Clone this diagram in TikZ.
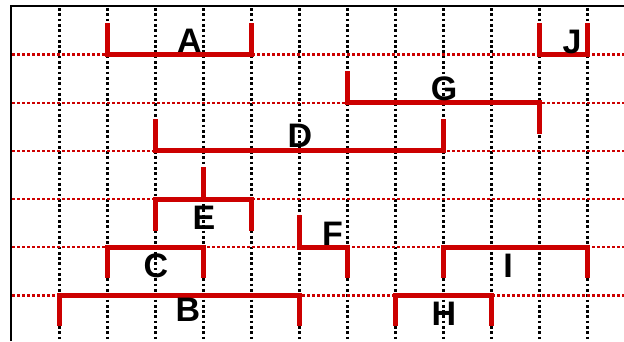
\documentclass[tikz,border=0pt]{standalone}
\usepackage{fontspec}
\setmainfont{Liberation Sans}
\definecolor{barred}{RGB}{204,0,0}

\begin{document}
\begin{tikzpicture}[x=1pt,y=-1pt,
  vgrid/.style={black,line width=2.7pt,dash pattern=on 2.7pt off 2.6pt},
  hgrid/.style={barred,line width=2.3pt,dash pattern=on 2.5pt off 2.5pt},
  interval/.style={barred,line width=5pt},
  lbl/.style={anchor=base,inner sep=0pt,font=\fontsize{34}{40}\bfseries\selectfont}]
\useasboundingbox (0,0) rectangle (624,341);
\draw[vgrid] (59.5,8) -- (59.5,341);
\draw[vgrid] (107.5,8) -- (107.5,341);
\draw[vgrid] (155.5,8) -- (155.5,341);
\draw[vgrid] (203.5,8) -- (203.5,341);
\draw[vgrid] (251.5,8) -- (251.5,341);
\draw[vgrid] (299.5,8) -- (299.5,341);
\draw[vgrid] (347.5,8) -- (347.5,341);
\draw[vgrid] (395.5,8) -- (395.5,341);
\draw[vgrid] (443.5,8) -- (443.5,341);
\draw[vgrid] (491.5,8) -- (491.5,341);
\draw[vgrid] (539.5,8) -- (539.5,341);
\draw[vgrid] (587.5,8) -- (587.5,341);
\draw[hgrid] (12,54.5) -- (624,54.5);
\draw[hgrid] (12,102.7) -- (624,102.7);
\draw[hgrid] (12,150.9) -- (624,150.9);
\draw[hgrid] (12,199.1) -- (624,199.1);
\draw[hgrid] (12,247.3) -- (624,247.3);
\draw[hgrid] (12,295.5) -- (624,295.5);
\draw[black,line width=2.2pt] (11,341) -- (11,6) -- (624,6);
% intervals
\draw[interval] (107.5,23) -- (107.5,54.5) -- (251.5,54.5) -- (251.5,23);
\draw[interval] (539.5,23) -- (539.5,54.5) -- (587.5,54.5) -- (587.5,23);
\draw[interval] (347.5,71) -- (347.5,102.7) -- (539.5,102.7) -- (539.5,134);
\draw[interval] (155.5,119) -- (155.5,150.9) -- (443.5,150.9) -- (443.5,119);
\draw[interval] (155.5,231) -- (155.5,199.1) -- (251.5,199.1) -- (251.5,231);
\draw[interval] (203.5,199.1) -- (203.5,167);
\draw[interval] (299.5,215) -- (299.5,247.3) -- (347.5,247.3) -- (347.5,278);
\draw[interval] (107.5,278) -- (107.5,247.3) -- (203.5,247.3) -- (203.5,278);
\draw[interval] (443.5,278) -- (443.5,247.3) -- (587.5,247.3) -- (587.5,278);
\draw[interval] (59.5,326) -- (59.5,295.5) -- (299.5,295.5) -- (299.5,326);
\draw[interval] (395.5,326) -- (395.5,295.5) -- (491.5,295.5) -- (491.5,326);
% labels
\node[lbl] (labA) at (189.5,52) {A};
\node[lbl] (labJ) at (572,53) {J};
\node[lbl] (labG) at (444,100) {G};
\node[lbl] (labD) at (300,147) {D};
\node[lbl] (labE) at (204,229) {E};
\node[lbl] (labF) at (332.5,245) {F};
\node[lbl] (labC) at (156,277) {C};
\node[lbl] (labI) at (508,277) {I};
\node[lbl] (labB) at (188,321) {B};
\node[lbl] (labH) at (444,325) {H};
\end{tikzpicture}
\end{document}
